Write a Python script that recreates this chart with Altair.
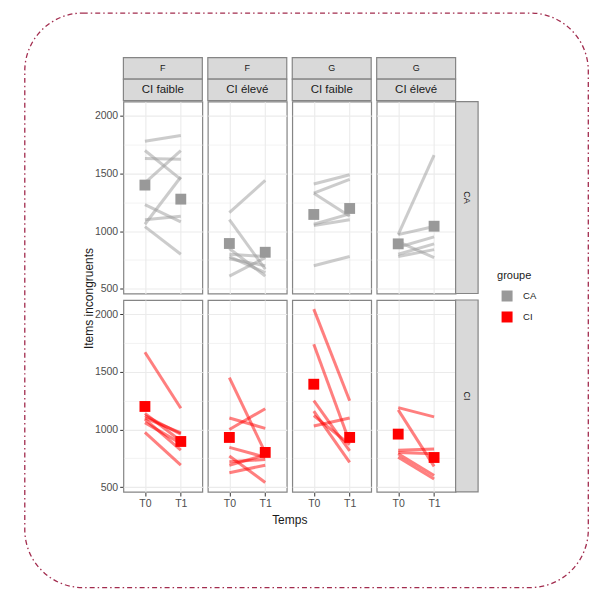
import altair as alt
import pandas as pd

FONT = "Liberation Sans"

# Facet levels
sexes = ["F", "F", "G", "G"]
ci_levels = ["CI faible", "CI élevé", "CI faible", "CI élevé"]
groupes = ["CA", "CI"]
temps = ["T0", "T1"]
colors = ["#999999", "#ff0000"]

# Individual trajectories (T0 -> T1), one pair of lists per panel
ca_f_faible_t0 = [1780, 1700, 1630, 1420, 1230, 1100, 1060, 1040]
ca_f_faible_t1 = [1830, 1450, 1625, 1700, 1080, 1130, 1470, 800]
ca_f_eleve_t0 = [1160, 1100, 800, 780, 850, 610, 760]
ca_f_eleve_t1 = [1440, 670, 780, 640, 610, 770, 700]
ca_g_faible_t0 = [1410, 1330, 1330, 1060, 1050, 700]
ca_g_faible_t1 = [1490, 1450, 1130, 1150, 1100, 780]
ca_g_eleve_t0 = [970, 970, 860, 910, 800, 780]
ca_g_eleve_t1 = [1660, 1040, 950, 770, 890, 840]

ci_f_faible_t0 = [1670, 1140, 1120, 1090, 1060, 975, 1100]
ci_f_faible_t1 = [1185, 900, 960, 820, 880, 690, 970]
ci_f_eleve_t0 = [1450, 1000, 1100, 845, 770, 690, 625, 720]
ci_f_eleve_t1 = [800, 1180, 1010, 760, 540, 780, 690, 740]
ci_g_faible_t0 = [2045, 1740, 1250, 1160, 1120, 1030]
ci_g_faible_t1 = [1250, 890, 815, 715, 870, 1100]
ci_g_eleve_t0 = [1190, 1170, 820, 790, 760, 800]
ci_g_eleve_t1 = [1110, 680, 830, 600, 570, 790]

# Group means (squares), [T0, T1] per panel
ca_means = [[1400, 1278], [893, 817], [1145, 1197], [890, 1043]]
ci_means = [[1200, 896], [931, 801], [1393, 931], [960, 757]]

trajectories = {
    "CA": [(ca_f_faible_t0, ca_f_faible_t1), (ca_f_eleve_t0, ca_f_eleve_t1),
           (ca_g_faible_t0, ca_g_faible_t1), (ca_g_eleve_t0, ca_g_eleve_t1)],
    "CI": [(ci_f_faible_t0, ci_f_faible_t1), (ci_f_eleve_t0, ci_f_eleve_t1),
           (ci_g_faible_t0, ci_g_faible_t1), (ci_g_eleve_t0, ci_g_eleve_t1)],
}
means = {"CA": ca_means, "CI": ci_means}

PW, PH = 79, 192
SW = 22.5            # width of the row strip
S1, S2 = 21.5, 21.5  # heights of the two column strips
Y_DOMAIN = [459, 2124]
Y_VALUES = [500, 750, 1000, 1250, 1500, 1750, 2000]

# ---- one long table, faceted by groupe (rows) and panel (columns)
rows = []
for g in groupes:
    for k in range(4):
        t0, t1 = trajectories[g][k]
        for i, (a, b) in enumerate(zip(t0, t1)):
            rows.append(dict(kind="traj", groupe=g, panel=k, sujet=i, temps="T0", valeur=a))
            rows.append(dict(kind="traj", groupe=g, panel=k, sujet=i, temps="T1", valeur=b))
        for t, v in zip(temps, means[g][k]):
            rows.append(dict(kind="mean", groupe=g, panel=k, temps=t, valeur=v))
for k in range(4):
    rows.append(dict(kind="colstrip", groupe="CA", panel=k, label1=sexes[k], label2=ci_levels[k]))
for g in groupes:
    rows.append(dict(kind="rowstrip", groupe=g, panel=3, label1=g))
rows.append(dict(kind="frame", groupe="CA", panel=0))
rows.append(dict(kind="ytitle", groupe="CA", panel=0, label1="Items incongruents"))
rows.append(dict(kind="xtitle", groupe="CI", panel=0, label1="Temps"))
df = pd.DataFrame(rows)

minor = "datum.value % 500 !== 0"

x = alt.X(
    "temps:N", scale=alt.Scale(domain=temps, padding=0.6),
    axis=alt.Axis(title=None, domain=False, grid=True, gridColor="#ebebeb", gridWidth=1.1,
                  labelAngle=0, tickSize=3.7, tickColor="#333333", labelPadding=2),
)
y = alt.Y(
    "valeur:Q", scale=alt.Scale(domain=Y_DOMAIN, nice=False, zero=False),
    axis=alt.Axis(
        title=None, values=Y_VALUES, domain=False, grid=True, gridColor="#ebebeb",
        gridWidth={"condition": {"test": minor, "value": 0.6}, "value": 1.1},
        tickSize=3.7, tickColor="#333333",
        tickOpacity={"condition": {"test": minor, "value": 0}, "value": 1},
        format="d",
        labelExpr="datum.value % 500 === 0 ? datum.label : ''", labelPadding=2,
    ),
)

base = alt.Chart()

# trajectories: one layer per group so that only the squares carry the colour legend
line_layers = [
    base.mark_line(strokeWidth=3, opacity=0.5, stroke=c).encode(
        x=x, y=y, detail="sujet:N",
    ).transform_filter((alt.datum.kind == "traj") & (alt.datum.groupe == g))
    for g, c in zip(groupes, colors)
]

squares = base.mark_square(size=118, opacity=1).encode(
    x=x, y=y,
    color=alt.Color(
        "groupe:N", scale=alt.Scale(domain=groupes, range=colors),
        legend=alt.Legend(title="groupe", orient="none", legendX=374, legendY=168,
                          symbolType="square", symbolSize=121, symbolStrokeWidth=0,
                          symbolOpacity=1, rowPadding=10, titlePadding=10, labelOffset=10.5,
                          symbolOffset=4.5, titleFontSize=11, titleFontWeight="normal",
                          titleColor="#1a1a1a", labelFontSize=9.5, labelColor="#1a1a1a",
                          titleFont=FONT, labelFont=FONT),
    ),
).transform_filter(alt.datum.kind == "mean")

strip_style = dict(fill="#d9d9d9", stroke="#858585", strokeWidth=1.2)
col_strip = alt.datum.kind == "colstrip"
row_strip = alt.datum.kind == "rowstrip"

cs1 = base.mark_rect(**strip_style).encode(
    x=alt.value(0), x2=alt.value(PW), y=alt.value(-1 - S2 - S1), y2=alt.value(-1 - S2),
).transform_filter(col_strip)
cs1t = base.mark_text(fontSize=9, color="#1a1a1a", font=FONT).encode(
    x=alt.value(PW / 2), y=alt.value(-1 - S2 - S1 / 2), text="label1:N",
).transform_filter(col_strip)
cs2 = base.mark_rect(**strip_style).encode(
    x=alt.value(0), x2=alt.value(PW), y=alt.value(-1 - S2), y2=alt.value(-1),
).transform_filter(col_strip)
cs2t = base.mark_text(fontSize=11.5, color="#1a1a1a", font=FONT).encode(
    x=alt.value(PW / 2), y=alt.value(-1 - S2 / 2), text="label2:N",
).transform_filter(col_strip)
rs = base.mark_rect(**strip_style).encode(
    x=alt.value(PW), x2=alt.value(PW + SW), y=alt.value(0), y2=alt.value(PH),
).transform_filter(row_strip)
rst = base.mark_text(fontSize=9, color="#1a1a1a", font=FONT, angle=90).encode(
    x=alt.value(PW + SW / 2), y=alt.value(PH / 2), text="label1:N",
).transform_filter(row_strip)

frame = base.mark_rect(
    fillOpacity=0, stroke="#a22c4e", strokeWidth=1.3, strokeDash=[5, 3, 1.5, 3], cornerRadius=58,
).encode(
    x=alt.value(-98.7), x2=alt.value(465.3), y=alt.value(-88.7), y2=alt.value(486.3),
).transform_filter(alt.datum.kind == "frame")

ytitle = base.mark_text(fontSize=12, color="#1a1a1a", font=FONT, angle=270).encode(
    x=alt.value(-34.7), y=alt.value(197), text="label1:N",
).transform_filter(alt.datum.kind == "ytitle")
xtitle = base.mark_text(fontSize=12, color="#1a1a1a", font=FONT).encode(
    x=alt.value(166.5), y=alt.value(PH + 28.5), text="label1:N",
).transform_filter(alt.datum.kind == "xtitle")

layered = alt.layer(frame, *line_layers, squares, cs1, cs2, cs1t, cs2t, rs, rst, ytitle, xtitle).properties(
    width=PW, height=PH,
)

chart = layered.facet(
    data=df,
    row=alt.Row("groupe:N", sort=groupes, header=alt.Header(labels=False, title=None)),
    column=alt.Column("panel:O", sort=[0, 1, 2, 3], header=alt.Header(labels=False, title=None)),
    spacing={"row": 6.5, "column": 5.5},
    bounds="flush",
).properties(
    padding={"left": 15.5, "top": 3.5, "right": 0, "bottom": 0},
).configure(
    font=FONT,
).configure_view(
    stroke="#858585", strokeWidth=1.2, fill="white",
).configure_axis(
    labelFont=FONT, labelFontSize=10.5, labelColor="#4d4d4d",
)

chart.save("out.html", embed_options={"renderer": "svg", "actions": False})
